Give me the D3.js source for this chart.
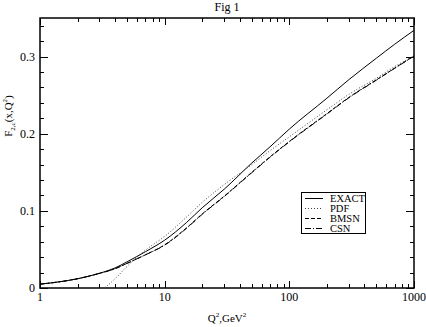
<!DOCTYPE html>
<html>
<head>
<meta charset="utf-8">
<script src="https://cdn.jsdelivr.net/npm/d3@7"></script>
<style>
  body { margin: 0; background: #fff; }
  text { font-family: "Liberation Serif", "Times New Roman", serif; fill: #000; }
</style>
</head>
<body>
<div id="chart"></div>
<script>
// Q^2 grid (GeV^2) and curve values
const qExact = [1, 1.5, 2, 3, 4, 5, 7, 10, 15, 20, 30, 50, 70, 100, 200, 300, 500, 700, 1000]
const exact = [0.005, 0.0085, 0.012, 0.019, 0.026, 0.034, 0.047, 0.062, 0.085, 0.104, 0.128, 0.162, 0.183, 0.206, 0.246, 0.27, 0.298, 0.316, 0.334]

const qPdf = [3.3, 4, 5, 6, 7, 10, 15, 20, 30, 50, 70, 100, 200, 300, 500, 700, 1000]
const pdf = [0, 0.012, 0.028, 0.040, 0.049, 0.067, 0.092, 0.111, 0.134, 0.160, 0.178, 0.196, 0.231, 0.251, 0.272, 0.287, 0.301]

const qBmsn = [1, 1.5, 2, 3, 4, 5, 7, 10, 15, 20, 30, 50, 70, 100, 200, 300, 500, 700, 1000]
const bmsn = [0.005, 0.0085, 0.012, 0.019, 0.025, 0.032, 0.043, 0.056, 0.078, 0.096, 0.119, 0.150, 0.170, 0.190, 0.226, 0.247, 0.270, 0.285, 0.301]

const qCsn = [1, 1.5, 2, 3, 4, 5, 7, 10, 15, 20, 30, 50, 70, 100, 200, 300, 500, 700, 1000]
const csn = [0.005, 0.0085, 0.012, 0.019, 0.025, 0.032, 0.043, 0.0555, 0.0775, 0.0955, 0.1185, 0.1495, 0.1695, 0.1895, 0.2255, 0.2465, 0.2695, 0.2848, 0.3005]

const xTicks = [1, 10, 100, 1000]
const yTicks = [0, 0.1, 0.2, 0.3]
const legendNames = ['EXACT', 'PDF', 'BMSN', 'CSN']

const width = 426
const height = 327
const margin = { top: 18, right: 12, bottom: 39, left: 40 }

const x = d3.scaleLog().domain([1, 1000]).range([margin.left, width - margin.right])
const y = d3.scaleLinear().domain([0, 0.35]).range([height - margin.bottom, margin.top])

const svg = d3.select('#chart').append('svg')
  .attr('width', width)
  .attr('height', height)

const x0 = x.range()[0], x1 = x.range()[1]
const y0 = y.range()[0], y1 = y.range()[1]

// minor ticks
const xMinor = []
for (let d = 1; d < 1000; d *= 10) {
  for (let k = 2; k <= 9; k++) xMinor.push(d * k)
}
const yMinor = d3.range(0.02, 0.35, 0.02).filter(v => Math.abs(v * 10 - Math.round(v * 10)) > 1e-6)

const ticks = svg.append('g').attr('stroke', '#000').attr('stroke-width', 1)

const addX = (vals, len) => {
  vals.forEach(v => {
    const px = Math.round(x(v)) + 0.5
    ticks.append('line').attr('x1', px).attr('x2', px).attr('y1', y0).attr('y2', y0 - len)
    ticks.append('line').attr('x1', px).attr('x2', px).attr('y1', y1).attr('y2', y1 + len)
  })
}
const addY = (vals, len) => {
  vals.forEach(v => {
    const py = Math.round(y(v)) + 0.5
    ticks.append('line').attr('x1', x0).attr('x2', x0 + len).attr('y1', py).attr('y2', py)
    ticks.append('line').attr('x1', x1).attr('x2', x1 - len).attr('y1', py).attr('y2', py)
  })
}
addX(xTicks, 7)
addX(xMinor, 4)
addY(yTicks, 8)
addY(yMinor, 4)

// frame
svg.append('rect')
  .attr('x', x0).attr('y', y1)
  .attr('width', x1 - x0).attr('height', y0 - y1)
  .attr('fill', 'none').attr('stroke', '#000').attr('stroke-width', 1.5)

// tick labels
svg.append('g').selectAll('text')
  .data(xTicks).enter().append('text')
  .attr('x', d => x(d))
  .attr('y', y0 + 13)
  .attr('text-anchor', 'middle')
  .attr('font-size', 12)
  .text(d => d)

svg.append('g').selectAll('text')
  .data(yTicks).enter().append('text')
  .attr('x', x0 - 5)
  .attr('y', d => y(d) + 4)
  .attr('text-anchor', 'end')
  .attr('font-size', 12)
  .text(d => d === 0 ? '0' : d3.format('.1f')(d))

// axis titles
const xt = svg.append('text')
  .attr('x', 227).attr('y', 322)
  .attr('text-anchor', 'middle')
  .attr('font-size', 11)
xt.append('tspan').text('Q')
xt.append('tspan').attr('font-size', 7).attr('dy', -5).text('2')
xt.append('tspan').attr('dy', 5).text(',GeV')
xt.append('tspan').attr('font-size', 7).attr('dy', -5).text('2')

const yt = svg.append('text')
  .attr('transform', 'translate(12,116) rotate(-90)')
  .attr('text-anchor', 'middle')
  .attr('font-size', 11)
yt.append('tspan').text('F')
yt.append('tspan').attr('font-size', 7).attr('dy', 3).text('2,c')
yt.append('tspan').attr('dy', -3).text('(x,Q')
yt.append('tspan').attr('font-size', 7).attr('dy', -5).text('2')
yt.append('tspan').attr('dy', 5).text(')')

svg.append('text')
  .attr('x', 227).attr('y', 11)
  .attr('text-anchor', 'middle')
  .attr('font-size', 12)
  .text('Fig 1')

// curves
const series = [
  { q: qExact, v: exact, dash: null, color: '#000' },
  { q: qPdf, v: pdf, dash: '1,2', color: '#444' },
  { q: qBmsn, v: bmsn, dash: '4,2', color: '#000' },
  { q: qCsn, v: csn, dash: '6,2,1,2', color: '#000' }
]

const line = d3.line()
  .x(d => x(d[0]))
  .y(d => y(d[1]))
  .curve(d3.curveMonotoneX)

const plot = svg.append('g')
series.forEach(s => {
  plot.append('path')
    .datum(s.q.map((q, i) => [q, s.v[i]]))
    .attr('d', line)
    .attr('fill', 'none')
    .attr('stroke', s.color)
    .attr('stroke-width', 1)
    .attr('stroke-dasharray', s.dash)
})

// legend
const legend = svg.append('g').attr('transform', 'translate(301,192)')
legend.append('rect')
  .attr('x', 0.5).attr('y', 0.5)
  .attr('width', 64).attr('height', 41)
  .attr('fill', '#fff').attr('stroke', '#000').attr('stroke-width', 1)

legendNames.forEach((name, i) => {
  const ly = 6.5 + i * 10
  legend.append('line')
    .attr('x1', 4).attr('x2', 22)
    .attr('y1', ly).attr('y2', ly)
    .attr('stroke', series[i].color)
    .attr('stroke-width', 1)
    .attr('stroke-dasharray', series[i].dash)
  legend.append('text')
    .attr('x', 29).attr('y', ly + 3.5)
    .attr('font-size', 10.5)
    .text(name)
})
</script>
</body>
</html>
